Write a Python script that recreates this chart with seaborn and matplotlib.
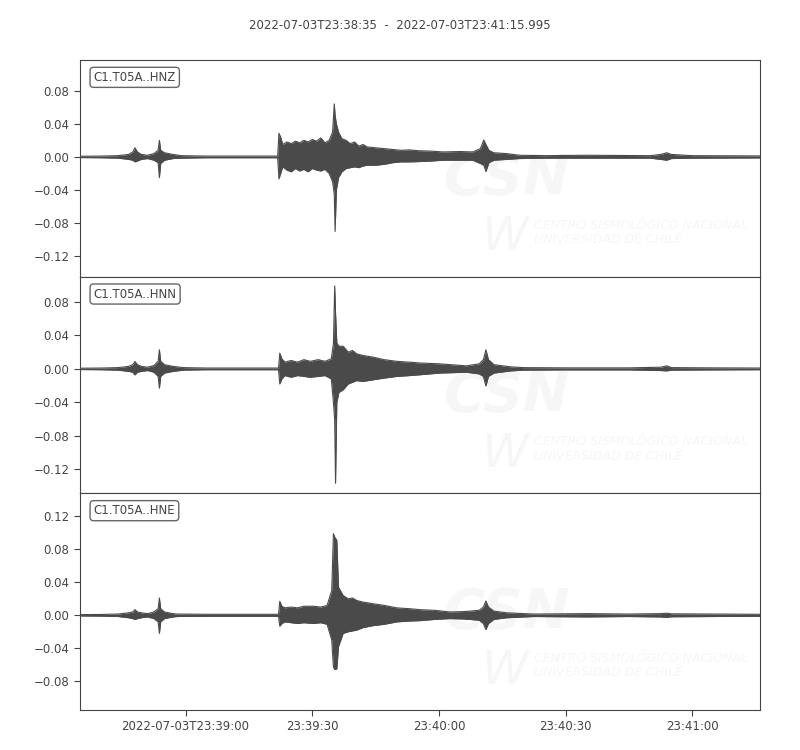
import numpy as np
import pandas as pd
import matplotlib
matplotlib.use("Agg")
import matplotlib.pyplot as plt
import seaborn as sns

# trace envelopes: seconds after 23:38:35, upper / lower amplitude
hnz_t = [0, 5, 9, 11.5, 12.5, 13.0, 13.6, 14.5, 16, 17.5, 18.5, 18.8, 19.1, 20, 22, 24, 30, 46.8,
         47.1, 47.5, 48, 49, 50, 51, 52, 53, 54, 55, 56, 57, 58, 59, 59.8, 60.2, 60.4, 60.7, 61.2,
         62, 63, 64, 65, 66, 67, 68, 70, 72, 74, 76, 78, 80, 83, 86, 90, 93, 94.8, 95.6, 96.1, 96.8,
         98, 101, 104, 110, 120, 135, 137.5, 138.9, 140, 145, 161]
hnz_up = [0.0008, 0.001, 0.0015, 0.003, 0.006, 0.011, 0.006, 0.003, 0.002, 0.004, 0.008, 0.020, 0.008,
          0.005, 0.003, 0.0015, 0.001, 0.001, 0.0285, 0.024, 0.015, 0.018, 0.016, 0.019, 0.017, 0.020,
          0.018, 0.021, 0.019, 0.023, 0.017, 0.020, 0.030, 0.064, 0.050, 0.040, 0.030, 0.022, 0.020,
          0.016, 0.018, 0.013, 0.015, 0.012, 0.011, 0.010, 0.009, 0.008, 0.0085, 0.0075, 0.007, 0.006,
          0.0065, 0.006, 0.010, 0.0205, 0.015, 0.008, 0.005, 0.004, 0.002, 0.0015, 0.002, 0.0015, 0.003,
          0.005, 0.003, 0.0015, 0.0012]
hnz_lo = [-0.0008, -0.001, -0.0015, -0.003, -0.004, -0.006, -0.005, -0.003, -0.002, -0.004, -0.007,
          -0.025, -0.008, -0.004, -0.002, -0.0015, -0.001, -0.001, -0.0265, -0.020, -0.012, -0.016,
          -0.018, -0.014, -0.017, -0.015, -0.018, -0.014, -0.016, -0.017, -0.015, -0.020, -0.030,
          -0.045, -0.090, -0.040, -0.025, -0.018, -0.014, -0.013, -0.012, -0.013, -0.011, -0.010,
          -0.010, -0.009, -0.007, -0.006, -0.006, -0.0057, -0.005, -0.004, -0.004, -0.004, -0.008,
          -0.010, -0.0177, -0.007, -0.004, -0.003, -0.002, -0.0015, -0.0015, -0.0015, -0.003, -0.004,
          -0.002, -0.0015, -0.0012]

hnn_t = [0, 5, 9, 11.5, 12.5, 13.0, 13.6, 14.5, 16, 17.5, 18.5, 18.8, 19.1, 20, 22, 24.5, 30, 47.0,
         47.3, 47.8, 48.5, 50, 51.5, 53, 54.5, 56.4, 58, 59.5, 60.0, 60.3, 60.5, 60.8, 61.3, 62.3,
         63.5, 64.5, 65.5, 67, 69.4, 72, 75, 78, 80.5, 85.2, 91.5, 94.5, 95.5, 96.1, 96.7, 98, 101.8,
         105, 115, 130, 137.5, 138.9, 140, 150, 161]
hnn_up = [0.0008, 0.001, 0.0015, 0.003, 0.005, 0.0088, 0.005, 0.003, 0.002, 0.004, 0.009, 0.0228,
          0.009, 0.005, 0.003, 0.0015, 0.001, 0.001, 0.0188, 0.012, 0.008, 0.010, 0.008, 0.011, 0.009,
          0.011, 0.009, 0.012, 0.030, 0.099, 0.067, 0.031, 0.027, 0.027, 0.020, 0.022, 0.018, 0.016,
          0.014, 0.011, 0.009, 0.008, 0.007, 0.006, 0.0036, 0.006, 0.011, 0.0228, 0.011, 0.005, 0.0025,
          0.0015, 0.0012, 0.0012, 0.002, 0.0036, 0.0015, 0.0012, 0.001]
hnn_lo = [-0.0008, -0.001, -0.0015, -0.003, -0.004, -0.0072, -0.004, -0.003, -0.002, -0.004, -0.009,
          -0.023, -0.009, -0.005, -0.003, -0.0015, -0.001, -0.001, -0.018, -0.012, -0.008, -0.010,
          -0.008, -0.009, -0.010, -0.009, -0.008, -0.012, -0.040, -0.061, -0.1365, -0.040, -0.028,
          -0.025, -0.018, -0.016, -0.014, -0.015, -0.013, -0.011, -0.009, -0.008, -0.007, -0.005,
          -0.004, -0.006, -0.009, -0.0204, -0.009, -0.005, -0.0025, -0.0015, -0.0012, -0.0012, -0.002,
          -0.0024, -0.0015, -0.0012, -0.001]

hne_t = [0, 5, 9, 11.5, 12.5, 13.0, 13.6, 14.5, 16, 17.5, 18.5, 18.8, 19.1, 20, 22, 23, 30, 47.0,
         47.3, 47.8, 48.5, 50, 51.5, 53, 55.2, 57, 58.5, 59.6, 60.0, 60.3, 60.8, 61.2, 62.3, 63.5,
         64.5, 65.5, 67, 69.4, 72, 75, 78, 80.5, 84, 87.6, 91, 94.5, 95.5, 96.1, 96.7, 98, 101, 107.3,
         120, 130, 137.5, 138.9, 140, 150, 161]
hne_up = [0.0008, 0.001, 0.0015, 0.003, 0.004, 0.0069, 0.004, 0.003, 0.002, 0.004, 0.008, 0.021,
          0.008, 0.004, 0.002, 0.0015, 0.0012, 0.0012, 0.017, 0.011, 0.009, 0.010, 0.009, 0.011,
          0.011, 0.010, 0.012, 0.030, 0.099, 0.095, 0.091, 0.034, 0.024, 0.020, 0.021, 0.018, 0.016,
          0.014, 0.012, 0.009, 0.008, 0.0068, 0.006, 0.004, 0.0045, 0.006, 0.010, 0.0174, 0.010, 0.005,
          0.003, 0.0015, 0.002, 0.0015, 0.002, 0.0025, 0.0018, 0.0015, 0.0012]
hne_lo = [-0.0008, -0.001, -0.0015, -0.003, -0.004, -0.0052, -0.004, -0.003, -0.002, -0.004, -0.008,
          -0.022, -0.008, -0.004, -0.002, -0.0015, -0.0012, -0.0012, -0.0133, -0.010, -0.008, -0.009,
          -0.010, -0.009, -0.010, -0.009, -0.011, -0.030, -0.063, -0.066, -0.065, -0.038, -0.022,
          -0.020, -0.019, -0.018, -0.015, -0.0125, -0.011, -0.008, -0.007, -0.0065, -0.005, -0.004,
          -0.0045, -0.006, -0.010, -0.0174, -0.010, -0.005, -0.003, -0.0015, -0.002, -0.0015, -0.002,
          -0.0025, -0.0018, -0.0015, -0.0012]

channels = ["C1.T05A..HNZ", "C1.T05A..HNN", "C1.T05A..HNE"]
ylims = [(-0.1446, 0.117), (-0.1485, 0.110), (-0.115, 0.148)]
yticks = [[-0.12, -0.08, -0.04, 0.0, 0.04, 0.08],
          [-0.12, -0.08, -0.04, 0.0, 0.04, 0.08],
          [-0.08, -0.04, 0.0, 0.04, 0.08, 0.12]]
xtick_pos = [25, 55, 85, 115, 145]
xtick_lab = ["2022-07-03T23:39:00", "23:39:30", "23:40:00", "23:40:30", "23:41:00"]
title = "2022-07-03T23:38:35  -  2022-07-03T23:41:15.995"
duration = 160.995

traces = [(hnz_t, hnz_up, hnz_lo), (hnn_t, hnn_up, hnn_lo), (hne_t, hne_up, hne_lo)]

sns.set_style("ticks")
plt.rcParams['font.family'] = ['DejaVu Sans']
grey = "#4a4a4a"
txt = "#444444"
wm = "#f6f6f6"

fig, axes = plt.subplots(3, 1, figsize=(8, 7.5), dpi=100, sharex=True)
fig.subplots_adjust(left=0.1, right=0.95, top=0.92, bottom=0.0533, hspace=0)

for ax, (t, up, lo), name, yl, yt in zip(axes, traces, channels, ylims, yticks):
    df = pd.DataFrame({"t": t, "up": up, "lo": lo})
    # faint CSN watermark
    ax.text(0.628, 0.45, "CSN", transform=ax.transAxes, fontsize=40, fontstyle="italic",
            fontweight="bold", color=wm, ha="center", va="center", zorder=0)
    ax.text(0.668, 0.205, "CENTRO SISMOLÓGICO NACIONAL\nUNIVERSIDAD DE CHILE",
            transform=ax.transAxes, fontsize=9, fontstyle="italic", color=wm,
            ha="left", va="center", zorder=0, linespacing=1.15)
    ax.text(0.625, 0.18, "W", transform=ax.transAxes, fontsize=34, fontstyle="italic",
            color=wm, ha="center", va="center", zorder=0)

    ax.fill_between(df["t"], df["lo"], df["up"], color=grey, lw=0, zorder=2)
    sns.lineplot(data=df, x="t", y="up", ax=ax, color=grey, lw=0.8, zorder=3)
    sns.lineplot(data=df, x="t", y="lo", ax=ax, color=grey, lw=0.8, zorder=3)
    ax.set_xlim(0, duration)
    ax.set_ylim(*yl)
    ax.set_yticks(yt)
    ax.set_yticklabels([f"{v:.2f}".replace("-", "\u2212") for v in yt])
    ax.set_xlabel("")
    ax.set_ylabel("")
    ax.text(0.02, 0.95, name, transform=ax.transAxes, fontsize=8.5, color=txt, va="top",
            ha="left", bbox=dict(boxstyle="round,pad=0.3", fc="white", ec="#666666", lw=1.0))
    ax.tick_params(axis="y", labelsize=8.5, colors=txt, length=4)
    for s in ax.spines.values():
        s.set_color("#444444")
        s.set_visible(True)
    ax.tick_params(axis="x", bottom=False, labelbottom=False)

axes[-1].tick_params(axis="x", bottom=True, labelbottom=True, labelsize=8.5, colors=txt, length=4)
axes[-1].set_xticks(xtick_pos)
axes[-1].set_xticklabels(xtick_lab)

fig.suptitle(title, y=0.975, fontsize=8.5, color=txt)
fig.savefig("out.png", dpi=100)
